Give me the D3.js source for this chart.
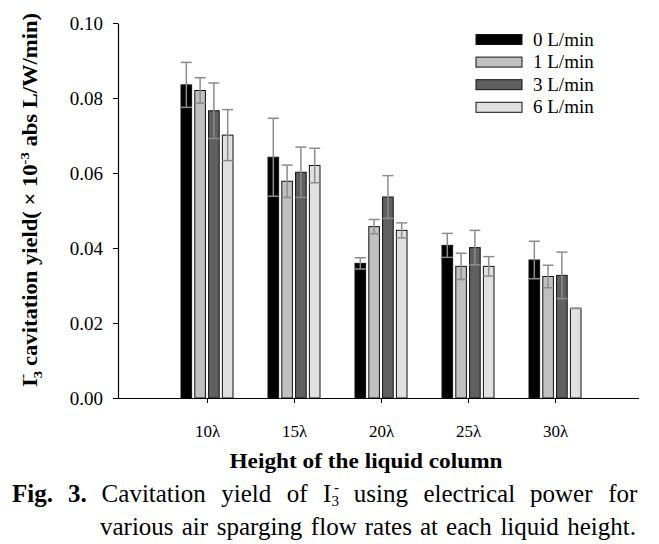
<!DOCTYPE html>
<html><head><meta charset="utf-8">
<script src="https://cdn.jsdelivr.net/npm/d3@7"></script>
<style>body{margin:0;background:#fff}svg{display:block}svg text{font-family:"Liberation Serif","Times New Roman",serif !important;fill:#000}</style>
</head><body>
<svg id="c" width="659" height="544"></svg>
<script>
const categories = ["10λ","15λ","20λ","25λ","30λ"];
const series = ["0 L/min","1 L/min","3 L/min","6 L/min"];
const values0 = [0.0835, 0.0642, 0.0359, 0.0407, 0.0368];
const values1 = [0.0820, 0.0578, 0.0457, 0.0351, 0.0324];
const values3 = [0.0766, 0.0602, 0.0536, 0.0401, 0.0327];
const values6 = [0.0701, 0.0620, 0.0447, 0.0351, 0.0239];
const errors0 = [0.0060, 0.0104, 0.0015, 0.0032, 0.0050];
const errors1 = [0.0034, 0.0043, 0.0019, 0.0035, 0.0030];
const errors3 = [0.0074, 0.0067, 0.0057, 0.0046, 0.0062];
const errors6 = [0.0068, 0.0046, 0.0020, 0.0026, 0.0000];
const yTicks = [0, 0.02, 0.04, 0.06, 0.08, 0.10];
const colors = ["#000000", "#c0c0c0", "#606060", "#e0e0e0"];

const values = [values0, values1, values3, values6];
const errors = [errors0, errors1, errors3, errors6];
const SERIF = "'Liberation Serif', 'Times New Roman', serif";

const svg = d3.select("#c");
const y = d3.scaleLinear().domain([0, 0.10]).range([398, 23]);
const x = d3.scalePoint().domain(categories).range([120, 642]).padding(1);
const xs = d3.scaleBand().domain(series).range([-26, 26]).paddingInner(0.23);

// bars
const data = [];
categories.forEach((c, i) => series.forEach((s, j) => data.push({c, s, j, v: values[j][i], e: errors[j][i]})));
svg.append("g").selectAll("rect").data(data).join("rect")
  .attr("x", d => x(d.c) + xs(d.s))
  .attr("y", d => y(d.v))
  .attr("width", xs.bandwidth())
  .attr("height", d => y(0) - y(d.v))
  .attr("fill", d => colors[d.j])
  .attr("stroke", "#111").attr("stroke-width", 1);

// error bars
const eg = svg.append("g").attr("stroke", "#8c8c8c").attr("stroke-width", 1.5);
data.forEach(d => {
  const cx = x(d.c) + xs(d.s) + xs.bandwidth() / 2;
  const hi = y(d.v + d.e), lo = y(d.v - d.e);
  eg.append("line").attr("x1", cx).attr("x2", cx).attr("y1", hi).attr("y2", lo);
  eg.append("line").attr("x1", cx - 5.5).attr("x2", cx + 5.5).attr("y1", hi).attr("y2", hi);
  eg.append("line").attr("x1", cx - 5.5).attr("x2", cx + 5.5).attr("y1", lo).attr("y2", lo);
});

// y axis
const ya = svg.append("g").attr("transform", "translate(118,0)")
  .call(d3.axisLeft(y).tickValues(yTicks).tickFormat(d3.format(".2f")).tickSize(5).tickSizeOuter(0).tickPadding(10));
ya.attr("font-family", SERIF).attr("font-size", 19);
ya.selectAll("text").attr("font-family", SERIF).style("font-family", SERIF).style("font-size", "19px");
ya.select(".domain").attr("stroke-width", 1.2);

// x axis
const xa = svg.append("g").attr("transform", "translate(0,398)")
  .call(d3.axisBottom(x).tickSize(5).tickSizeOuter(0).tickPadding(22));
xa.attr("font-family", SERIF).attr("font-size", 17);
xa.select(".domain").attr("d", "M118,0.5H639").attr("stroke-width", 1.2);
xa.selectAll("text").attr("font-family", SERIF).style("font-family", SERIF).style("font-size", "17px");

// legend
const lg = svg.append("g");
series.forEach((s, j) => {
  const cy = 39.5 + j * 22.6;
  lg.append("rect").attr("x", 476).attr("y", cy - 5).attr("width", 46).attr("height", 10)
    .attr("fill", colors[j]).attr("stroke", "#111").attr("stroke-width", 1);
  lg.append("text").attr("x", 533).attr("y", cy + 6).style("font-size", "19px").text(s);
});

// y label
const yl = svg.append("text").attr("transform", "translate(37,200) rotate(-90)")
  .attr("text-anchor", "middle").style("font-size", "20px").style("font-weight", "bold")
  .attr("textLength", 374).attr("lengthAdjust", "spacingAndGlyphs");
yl.append("tspan").text("I");
yl.append("tspan").attr("dy", 5).style("font-size", "13px").text("3");
yl.append("tspan").attr("dx", -7).attr("dy", -15).style("font-size", "13px").text("-");
yl.append("tspan").attr("dx", 7).attr("dy", 10).text("cavitation yield( × 10");
yl.append("tspan").attr("dy", -8).style("font-size", "13px").text("-3");
yl.append("tspan").attr("dx", 5).attr("dy", 8).text("abs L/W/min)");

// x label
svg.append("text").attr("x", 366).attr("y", 468).attr("text-anchor", "middle")
  .style("font-size", "21px").style("font-weight", "bold")
  .attr("textLength", 273).attr("lengthAdjust", "spacingAndGlyphs")
  .text("Height of the liquid column");

// caption (justified)
function justify(words, x0, x1, yb) {
  const g = svg.append("g");
  const nodes = words.map(w => {
    const t = g.append("text").attr("y", yb).style("font-size", "25px");
    w(t);
    return t;
  });
  const widths = nodes.map(n => n.node().getBBox().width);
  const total = d3.sum(widths);
  const gap = (x1 - x0 - total) / (nodes.length - 1);
  let cx = x0;
  nodes.forEach((n, i) => { n.attr("x", cx); cx += widths[i] + gap; });
}
const plain = s => t => t.text(s);
const bold = s => t => t.style("font-weight", "bold").text(s);
const i3 = t => {
  t.append("tspan").text("I");
  t.append("tspan").attr("dy", 4).style("font-size", "15px").text("3");
  t.append("tspan").attr("dx", -5).attr("dy", -14).style("font-size", "15px").text("-");
};
justify([bold("Fig."), bold("3."), plain("Cavitation"), plain("yield"), plain("of"), i3,
  plain("using"), plain("electrical"), plain("power"), plain("for")], 12, 638, 502);
justify(["various","air","sparging","flow","rates","at","each","liquid","height."].map(plain), 100, 636, 535);
</script>
</body></html>
